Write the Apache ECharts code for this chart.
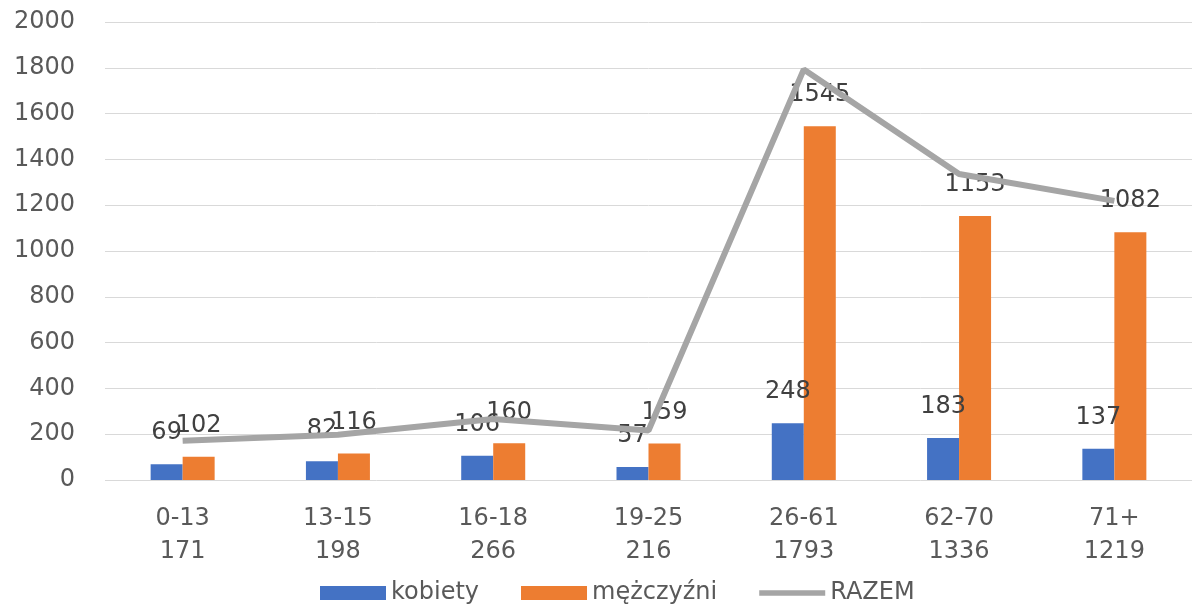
<!DOCTYPE html>
<html>
<head>
<meta charset="utf-8">
<script src="https://cdn.jsdelivr.net/npm/echarts@6/dist/echarts.min.js"></script>
<style>html,body{margin:0;padding:0;background:#fff}#c{width:1192px;height:605px}</style>
</head>
<body>
<div id="c"></div>
<script>
const categories = ['0-13\n171', '13-15\n198', '16-18\n266', '19-25\n216', '26-61\n1793', '62-70\n1336', '71+\n1219'];
const kobiety = [69, 82, 106, 57, 248, 183, 137];
const mezczyzni = [102, 116, 160, 159, 1545, 1153, 1082];
const razem = [171, 198, 266, 216, 1793, 1336, 1219];
const yTicks = { min: 0, max: 2000, interval: 200 };

const FONT = 'DejaVu Sans';
const TXT = '#595959';
const LBL = '#404040';
const chart = echarts.init(document.getElementById('c'));
chart.setOption({
  animation: false,
  textStyle: { fontFamily: FONT },
  grid: { left: 105, right: -4, top: 22, bottom: 125 },
  legend: {
    top: 576, left: 315, itemGap: 42, itemWidth: 66, itemHeight: 14,
    textStyle: { fontSize: 24, color: TXT, fontFamily: FONT },
    data: [
      { name: 'kobiety', icon: 'rect' },
      { name: 'mężczyźni', icon: 'rect' },
      { name: 'RAZEM', icon: 'path://M0,0 H70 V6 H0 Z' }
    ]
  },
  xAxis: {
    type: 'category', data: categories,
    axisLine: { show: false }, axisTick: { show: false },
    axisLabel: { fontSize: 24, fontFamily: FONT, color: TXT, lineHeight: 33, margin: 22, interval: 0 }
  },
  yAxis: {
    type: 'value', min: yTicks.min, max: yTicks.max, interval: yTicks.interval,
    splitLine: { show: true, lineStyle: { color: '#d9d9d9', width: 1 } },
    axisLine: { show: false }, axisTick: { show: false },
    axisLabel: { fontSize: 24, fontFamily: FONT, color: TXT, margin: 30, formatter: v => String(v) }
  },
  series: [
    {
      name: 'kobiety', type: 'bar', data: kobiety,
      barWidth: 32, barGap: '0%', itemStyle: { color: '#4472C4' },
      label: { show: true, position: 'top', distance: 19, fontSize: 24, fontFamily: FONT, color: LBL }
    },
    {
      name: 'mężczyźni', type: 'bar', data: mezczyzni,
      barWidth: 32, barGap: '0%', itemStyle: { color: '#ED7D31' },
      label: { show: true, position: 'top', distance: 19, fontSize: 24, fontFamily: FONT, color: LBL }
    },
    {
      name: 'RAZEM', type: 'line', data: razem,
      showSymbol: false, symbol: 'none', lineStyle: { color: '#A5A5A5', width: 6 },
      itemStyle: { color: '#A5A5A5' }, z: 3
    }
  ]
});
</script>
</body>
</html>
